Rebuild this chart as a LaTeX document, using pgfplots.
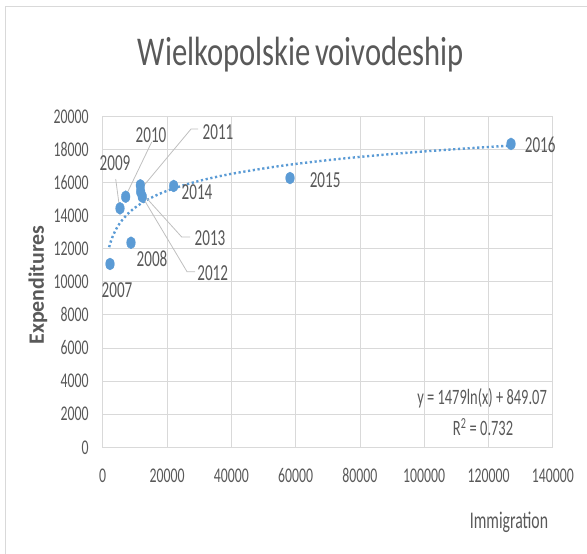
\documentclass[border=0pt]{standalone}
\usepackage{fontspec}
\setmainfont{Carlito}[FakeStretch=0.66]
\newfontfamily\titlefont{Carlito}[FakeStretch=0.75,WordSpace=0.6]
\newfontfamily\ylabfont{Carlito}
\usepackage{pgfplots}
\pgfplotsset{compat=1.18}
\definecolor{txt}{HTML}{595959}
\definecolor{grd}{HTML}{D9D9D9}
\definecolor{mk}{HTML}{5B9BD5}
\definecolor{ldr}{HTML}{BFBFBF}
\begin{document}
\begin{tikzpicture}[x=1bp,y=1bp]
\path[use as bounding box] (0,0) rectangle (587,554);
\draw[grd, line width=1bp] (5,0) -- (5,547) -- (587,547);
\begin{axis}[
  at={(102.7bp,106.7bp)}, anchor=south west,
  scale only axis, width=450.1bp, height=331bp,
  xmin=0, xmax=140000, ymin=0, ymax=20000,
  xtick={0,20000,...,140000}, ytick={0,2000,...,20000},
  scaled ticks=false,
  /pgf/number format/assume math mode=true,
  xticklabel={\pgfmathprintnumber[fixed,1000 sep={}]{\tick}},
  yticklabel={\pgfmathprintnumber[fixed,1000 sep={}]{\tick}},
  grid=major, major grid style={grd, line width=0.8bp},
  axis line style={grd, line width=0.8bp},
  tick style={draw=none},
  ticklabel style={font=\fontsize{21}{23}\selectfont, text=txt},
  yticklabel style={anchor=east, inner sep=0pt, xshift=-14bp},
  xticklabel style={anchor=north, inner sep=0pt, yshift=-21bp},
  title={\titlefont Wielkopolskie voivodeship},
  title style={at={(rel axis cs:0.4406,1.168)}, anchor=center, font=\fontsize{41}{45}\selectfont, text=txt},
  xlabel={Immigration},
  xlabel style={at={(rel axis cs:0.9026,-0.2257)}, anchor=center, font=\fontsize{24}{26}\selectfont, text=txt},
  ylabel={\ylabfont\bfseries Expenditures},
  ylabel style={at={(rel axis cs:-0.1437,0.4903)}, anchor=center, rotate=0, font=\fontsize{22}{24}\selectfont, text=txt},
  clip=false,
]
% trendline y = 1479 ln(x) + 849.07 (values listed)
\addplot[mk, line width=2.4bp, dash pattern=on 2.2bp off 2.6bp, smooth] coordinates {
(2000,12090.8) (2500,12420.8) (3000,12690.6) (4000,13115.9) (5000,13446.1)
(6000,13715.7) (8000,14141.2) (10000,14471.2) (13000,14859.2) (17000,15256.1)
(22000,15637.3) (30000,16096.0) (40000,16521.5) (55000,16992.5) (70000,17349.3)
(85000,17636.3) (100000,17876.7) (115000,18083.4) (127000,18230.2)};
% leader lines
\draw[ldr, line width=0.8bp] (axis cs:4040,16210) -- (axis cs:5160,14580);
\draw[ldr, line width=0.8bp] (axis cs:15240,18446) -- (axis cs:7470,15305);
\draw[ldr, line width=0.8bp] (axis cs:29650,19230) -- (axis cs:27470,19230) -- (axis cs:12130,15660);
\draw[ldr, line width=0.8bp] (axis cs:11800,15450) -- (axis cs:24580,12707) -- (axis cs:27160,12707);
\draw[ldr, line width=0.8bp] (axis cs:12300,15150) -- (axis cs:26230,10610) -- (axis cs:28710,10610);
% data
\addplot[only marks, mark=*, mark size=6bp, mark options={fill=mk, draw=mk, xscale=0.72}] coordinates {
(2270,11076) (8800,12360) (5380,14440) (7150,15140) (11700,15830)
(12300,15150) (11800,15450) (22080,15790) (58260,16270) (127000,18330)};
% data labels
\begin{scope}[every node/.style={font=\fontsize{23}{25}\selectfont, text=txt, inner sep=0pt}]
\node at (axis cs:4450,9504) {2007};
\node at (axis cs:15340,11377) {2008};
\node at (axis cs:3830,17177) {2009};
\node at (axis cs:15030,18870) {2010};
\node at (axis cs:35870,19070) {2011};
\node at (axis cs:34220,10530) {2012};
\node at (axis cs:33380,12650) {2013};
\node at (axis cs:29340,15443) {2014};
\node at (axis cs:69190,16120) {2015};
\node at (axis cs:136070,18270) {2016};
\end{scope}
\node[font=\fontsize{22}{24}\selectfont, text=txt] at (axis cs:118000,2966) {y = 1479ln(x) + 849.07};
\node[font=\fontsize{22}{24}\selectfont, text=txt] at (axis cs:118300,1214) {R\textsuperscript{2} = 0.732};
\end{axis}
\end{tikzpicture}
\end{document}
